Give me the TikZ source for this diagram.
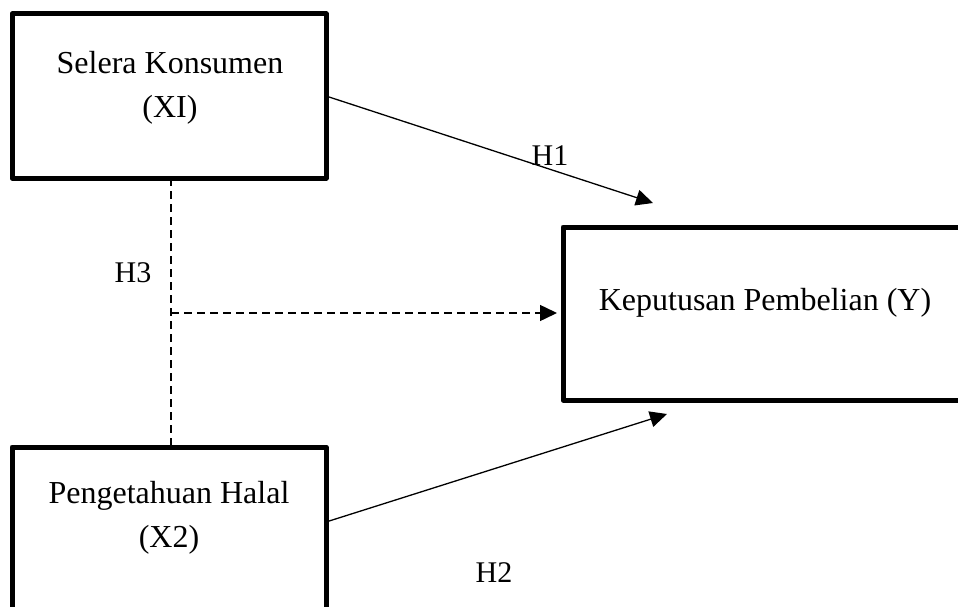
\documentclass[tikz,border=0pt]{standalone}
\usepackage{fontspec}
\setmainfont{Liberation Serif}
\usetikzlibrary{arrows.meta,calc}
\begin{document}
\begin{tikzpicture}[x=1pt,y=-1pt,
  varbox/.style={draw,line width=5pt,line join=round,rectangle,inner sep=0pt},
  txt/.style={font=\fontsize{32}{44}\selectfont,align=center,inner sep=0pt},
  lbl/.style={font=\fontsize{30}{36}\selectfont,inner sep=0pt},
  tip/.style={-{Triangle[length=17pt,width=16pt]}},
  conn/.style={line width=1.3pt,tip},
  dconn/.style={line width=1.5pt,dash pattern=on 8pt off 5pt}
]
\useasboundingbox (0,0) rectangle (958,607);
\clip (0,0) rectangle (958,607);
% boxes
\node[varbox,minimum width=314pt,minimum height=164pt] (x1) at (169,96) {};
\node[varbox,minimum width=314pt,minimum height=173pt] (x2) at (169,533.5) {};
\node[varbox,minimum width=412pt,minimum height=173pt] (y) at (769,313.5) {};
% texts
\node[txt] (t1) at (170,88) {Selera Konsumen\\(XI)};
\node[txt] (t2) at (169,518) {Pengetahuan Halal\\(X2)};
\node[txt] (ty) at (765,303) {Keputusan Pembelian (Y)};
% labels
\node[lbl] (h1) at (550,156) {H1};
\node[lbl] (h2) at (494,573) {H2};
\node[lbl] (h3) at (133,273) {H3};
% connector points
\coordinate (s1) at (326,96);
\coordinate (e1) at (653,203);
\coordinate (s2) at (326,522);
\coordinate (e2) at (667,414);
\coordinate (top3) at (171,178);
\coordinate (bot3) at (171,447);
\coordinate (mid3) at (171,313);
\coordinate (e3) at (557,313);
% connectors
\draw[conn] (s1) -- (e1);
\draw[conn] (s2) -- (e2);
\draw[dconn] (top3) -- (bot3);
\draw[dconn,tip] (mid3) -- (e3);
\end{tikzpicture}
\end{document}
